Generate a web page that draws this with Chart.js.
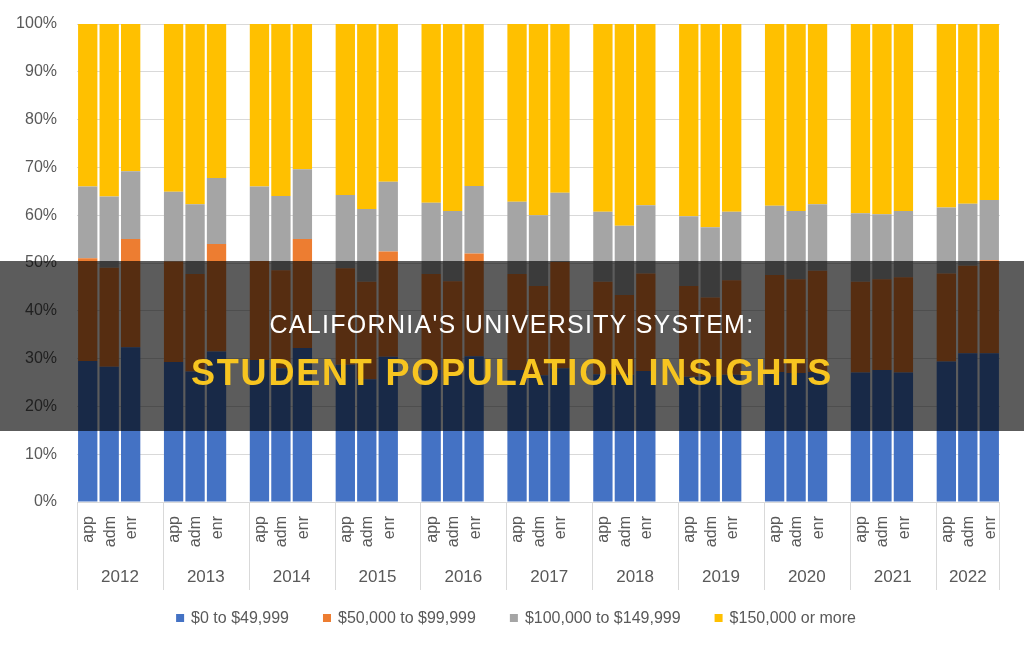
<!DOCTYPE html>
<html>
<head>
<meta charset="utf-8">
<script src="https://cdn.jsdelivr.net/npm/chart.js@4.4.1/dist/chart.umd.min.js"></script>
<style>
  body { margin: 0; background: #fff; }
  #wrap { position: relative; width: 1024px; height: 650px; }
  #band {
    position: absolute; left: 0; top: 261px; width: 1024px; height: 170px;
    background: rgba(0, 0, 0, 0.64);
  }
  .title { position: absolute; left: 0; width: 1024px; text-align: center; font-family: "Liberation Sans", Arial, sans-serif; white-space: nowrap; }
  #line1 { top: 312px; font-size: 25px; line-height: 25px; letter-spacing: 1.3px; color: #fff; }
  #line2 { top: 355px; font-size: 36px; line-height: 36px; letter-spacing: 1.8px; color: #f7c520; font-weight: bold; }
</style>
</head>
<body>
<div id="wrap">
  <canvas id="myChart"></canvas>
  <div id="band"></div>
  <div class="title" id="line1">CALIFORNIA'S UNIVERSITY SYSTEM:</div>
  <div class="title" id="line2">STUDENT POPULATION INSIGHTS</div>
</div>
<script>
"use strict";

// Årtal och steg (ansökt, antagen, inskriven)
const years = ["2012", "2013", "2014", "2015", "2016", "2017", "2018", "2019", "2020", "2021", "2022"];
const stages = ["app", "adm", "enr"];

// Andel i procent per inkomstgrupp, tre staplar per år (app, adm, enr)
const under50k = [29.5, 28.3, 32.4, 29.3, 27.3, 31.5, 29.7, 28.0, 32.2, 28.7, 25.7, 30.4,
  27.6, 26.6, 30.5, 27.6, 26.5, 28.0, 26.7, 26.6, 27.4, 26.2, 26.2, 26.6,
  27.2, 27.0, 27.2, 27.1, 27.6, 27.1, 29.4, 31.1, 31.1];
const from50k = [21.5, 20.7, 22.6, 21.0, 20.4, 22.5, 20.7, 20.5, 22.8, 20.2, 20.4, 22.0,
  20.1, 19.6, 21.5, 20.1, 18.7, 22.2, 19.4, 16.7, 20.4, 19.0, 16.6, 19.8,
  20.3, 19.6, 21.2, 19.0, 19.0, 19.9, 18.4, 18.3, 19.5];
const from100k = [15.0, 14.9, 14.2, 14.6, 14.6, 13.8, 15.6, 15.5, 14.6, 15.3, 15.2, 14.6,
  14.9, 14.7, 14.1, 15.1, 14.8, 14.5, 14.6, 14.5, 14.3, 14.6, 14.7, 14.3,
  14.5, 14.3, 13.9, 14.3, 13.6, 13.9, 13.8, 13.0, 12.6];
const over150k = [34.0, 36.1, 30.8, 35.1, 37.7, 32.2, 34.0, 36.0, 30.4, 35.8, 38.7, 33.0,
  37.4, 39.1, 33.9, 37.2, 40.0, 35.3, 39.3, 42.2, 37.9, 40.2, 42.5, 39.3,
  38.0, 39.1, 37.7, 39.6, 39.8, 39.1, 38.4, 37.6, 36.8];

const seriesNames = ["$0 to $49,999", "$50,000 to $99,999", "$100,000 to $149,999", "$150,000 or more"];
const seriesColors = ["#4472C4", "#ED7D31", "#A5A5A5", "#FFC000"];
const yTicks = [0, 10, 20, 30, 40, 50, 60, 70, 80, 90, 100];

const textColor = "#595959";
const lineColor = "#d9d9d9";
const font = '"Liberation Sans", Arial, sans-serif';

//Lägger in en tom kategori mellan varje år så att grupperna får mellanrum
function spread(values) {
  const out = [];
  years.forEach((y, i) => {
    stages.forEach((s, j) => out.push(values[i * 3 + j]));
    if (i < years.length - 1) out.push(null);
  });
  return out;
}
const labels = spread(years.flatMap(() => stages));
const series = [under50k, from50k, from100k, over150k];

//Ritar x-etiketter, årtal, avdelare och förklaring själv
const extras = {
  id: "extras",
  afterDraw(chart) {
    const ctx = chart.ctx;
    const x = chart.scales.x;
    const bottom = chart.chartArea.bottom;
    const step = x.getPixelForValue(1) - x.getPixelForValue(0);
    ctx.save();
    ctx.fillStyle = textColor;

    //Axellinje
    ctx.strokeStyle = lineColor;
    ctx.lineWidth = 1;
    ctx.beginPath();
    ctx.moveTo(chart.chartArea.left, bottom + 0.5);
    ctx.lineTo(chart.chartArea.right, bottom + 0.5);
    ctx.stroke();

    years.forEach((year, i) => {
      const first = i * 4;
      const left = i === 0 ? chart.chartArea.left : x.getPixelForValue(first) - step / 2;
      const right = i === years.length - 1 ? chart.chartArea.right : x.getPixelForValue(first + 4) - step / 2;

      //Avdelare mellan åren
      ctx.beginPath();
      ctx.moveTo(Math.round(left) + 0.5, bottom);
      ctx.lineTo(Math.round(left) + 0.5, 590);
      ctx.stroke();
      if (i === years.length - 1) {
        ctx.beginPath();
        ctx.moveTo(Math.round(right) - 0.5, bottom);
        ctx.lineTo(Math.round(right) - 0.5, 590);
        ctx.stroke();
      }

      //app/adm/enr roterade
      stages.forEach((s, j) => {
        const px = x.getPixelForValue(first + j);
        ctx.save();
        ctx.translate(px + 1, 516);
        ctx.rotate(-Math.PI / 2);
        ctx.font = "16px " + font;
        ctx.textAlign = "right";
        ctx.textBaseline = "middle";
        ctx.fillText(s, 0, 0);
        ctx.restore();
      });

      //Årtal
      ctx.font = "17px " + font;
      ctx.textAlign = "center";
      ctx.textBaseline = "middle";
      ctx.fillText(year, (left + right) / 2, 577);
    });

    //Förklaring
    ctx.font = "16px " + font;
    ctx.textBaseline = "middle";
    ctx.textAlign = "left";
    const box = 8, gap = 7, space = 34;
    const widths = seriesNames.map(n => box + gap + ctx.measureText(n).width);
    const total = widths.reduce((a, b) => a + b, 0) + space * (seriesNames.length - 1);
    let lx = 516 - total / 2;
    seriesNames.forEach((n, i) => {
      ctx.fillStyle = seriesColors[i];
      ctx.fillRect(lx, 618 - box / 2, box, box);
      ctx.fillStyle = textColor;
      ctx.fillText(n, lx + box + gap, 619);
      lx += widths[i] + space;
    });
    ctx.restore();
  }
};

const ctx = document.getElementById("myChart");
new Chart(ctx, {
  type: "bar",
  data: {
    labels,
    datasets: seriesNames.map((name, i) => ({
      label: name,
      data: spread(series[i]),
      backgroundColor: seriesColors[i],
      borderWidth: 0,
      barPercentage: 0.9,
      categoryPercentage: 1
    }))
  },
  options: {
    responsive: true,
    maintainAspectRatio: false,
    animation: false,
    layout: { padding: { top: 24, right: 24, left: 0, bottom: 0 } },
    plugins: { legend: { display: false }, tooltip: { enabled: false } },
    scales: {
      x: {
        stacked: true,
        grid: { display: false },
        border: { display: false },
        ticks: { display: false },
        afterFit: (scale) => { scale.height = 148; }
      },
      y: {
        stacked: true,
        min: 0,
        max: 100,
        afterBuildTicks: (scale) => { scale.ticks = yTicks.map(v => ({ value: v })); },
        grid: { color: lineColor, drawTicks: true, tickLength: 17, tickColor: "rgba(0,0,0,0)" },
        border: { display: false },
        ticks: {
          color: textColor,
          padding: 3,
          font: { family: font, size: 16 },
          callback: (v) => v + "%"
        },
        afterFit: (scale) => { scale.width = 77; }
      }
    }
  },
  plugins: [extras]
});
</script>
</body>
</html>
